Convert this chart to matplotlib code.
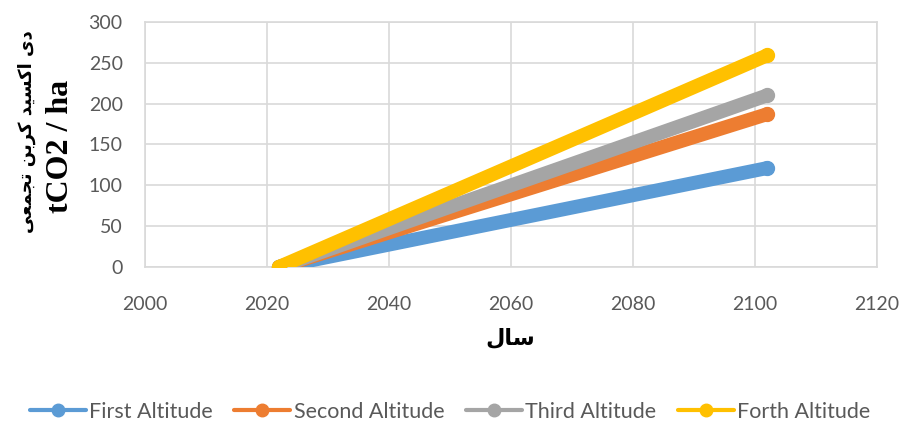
import numpy as np
import matplotlib
matplotlib.use("Agg")
from matplotlib import pyplot as plt

# data
years = [2022, 2102]
first_alt = [0, 121]
second_alt = [0, 187]
third_alt = [0, 210]
forth_alt = [0, 259]
series_names = ["First Altitude", "Second Altitude", "Third Altitude", "Forth Altitude"]
colors = ["#5B9BD5", "#ED7D31", "#A5A5A5", "#FFC000"]

# persian labels, shaped by hand (presentation forms, logical order)
ylabel_fa = "\uFEA9\uFBFC \uFE8D\uFB90\uFEB4\uFBFF\uFEAA \uFB90\uFEAE\uFE91\uFEE6 \uFE97\uFEA0\uFEE4\uFECC\uFBFD"
xlabel_fa = "\uFEB3\uFE8E\uFEDD"
ylabel_fa = ylabel_fa[::-1]
xlabel_fa = xlabel_fa[::-1]

fig = plt.figure(figsize=(9, 4.23), dpi=100)
ax = fig.add_axes([0.161, 0.369, 0.813, 0.579])

for vals, name, c in zip([first_alt, second_alt, third_alt, forth_alt], series_names, colors):
    ax.plot(years, vals, color=c, lw=10, marker="o", ms=10, label=name,
            solid_capstyle="round", zorder=3)

ax.set_xlim(2000, 2120)
ax.set_ylim(0, 300)
ax.set_xticks(np.arange(2000, 2121, 20))
ax.set_yticks(np.arange(0, 301, 50))
ax.grid(True, color="#d9d9d9", lw=1.2)
ax.set_axisbelow(True)
for s in ax.spines.values():
    s.set_color("#d9d9d9")
    s.set_linewidth(1.2)
ax.tick_params(length=0, labelsize=14, labelcolor="#595959")
ax.tick_params(axis="x", pad=21)
ax.tick_params(axis="y", pad=16)
for lab in ax.get_xticklabels() + ax.get_yticklabels():
    lab.set_fontfamily("Lato")

fig.text(27 / 900, 1 - 132 / 423, ylabel_fa, rotation=90, ha="center", va="center",
         fontsize=13, fontweight="bold", family=["DejaVu Sans"])
fig.text(61 / 900, 1 - 146 / 423, "tCO2 / ha", rotation=90, ha="center", va="center",
         fontsize=23, fontweight="bold", family="Liberation Serif")
fig.text(510 / 900, 1 - 338 / 423, xlabel_fa, ha="center", va="center",
         fontsize=16, fontweight="bold", family=["DejaVu Sans"])

leg = fig.legend(loc="center", bbox_to_anchor=(0.5, 1 - 412 / 423), ncol=4, frameon=False,
                 prop={"family": "Lato", "size": 15.5}, handlelength=2.6, columnspacing=1.0,
                 handletextpad=0.15)
for t in leg.get_texts():
    t.set_color("#595959")
for h in leg.legend_handles:
    h.set_linewidth(3)
    h.set_markersize(9)

fig.savefig("out.png", dpi=100)
